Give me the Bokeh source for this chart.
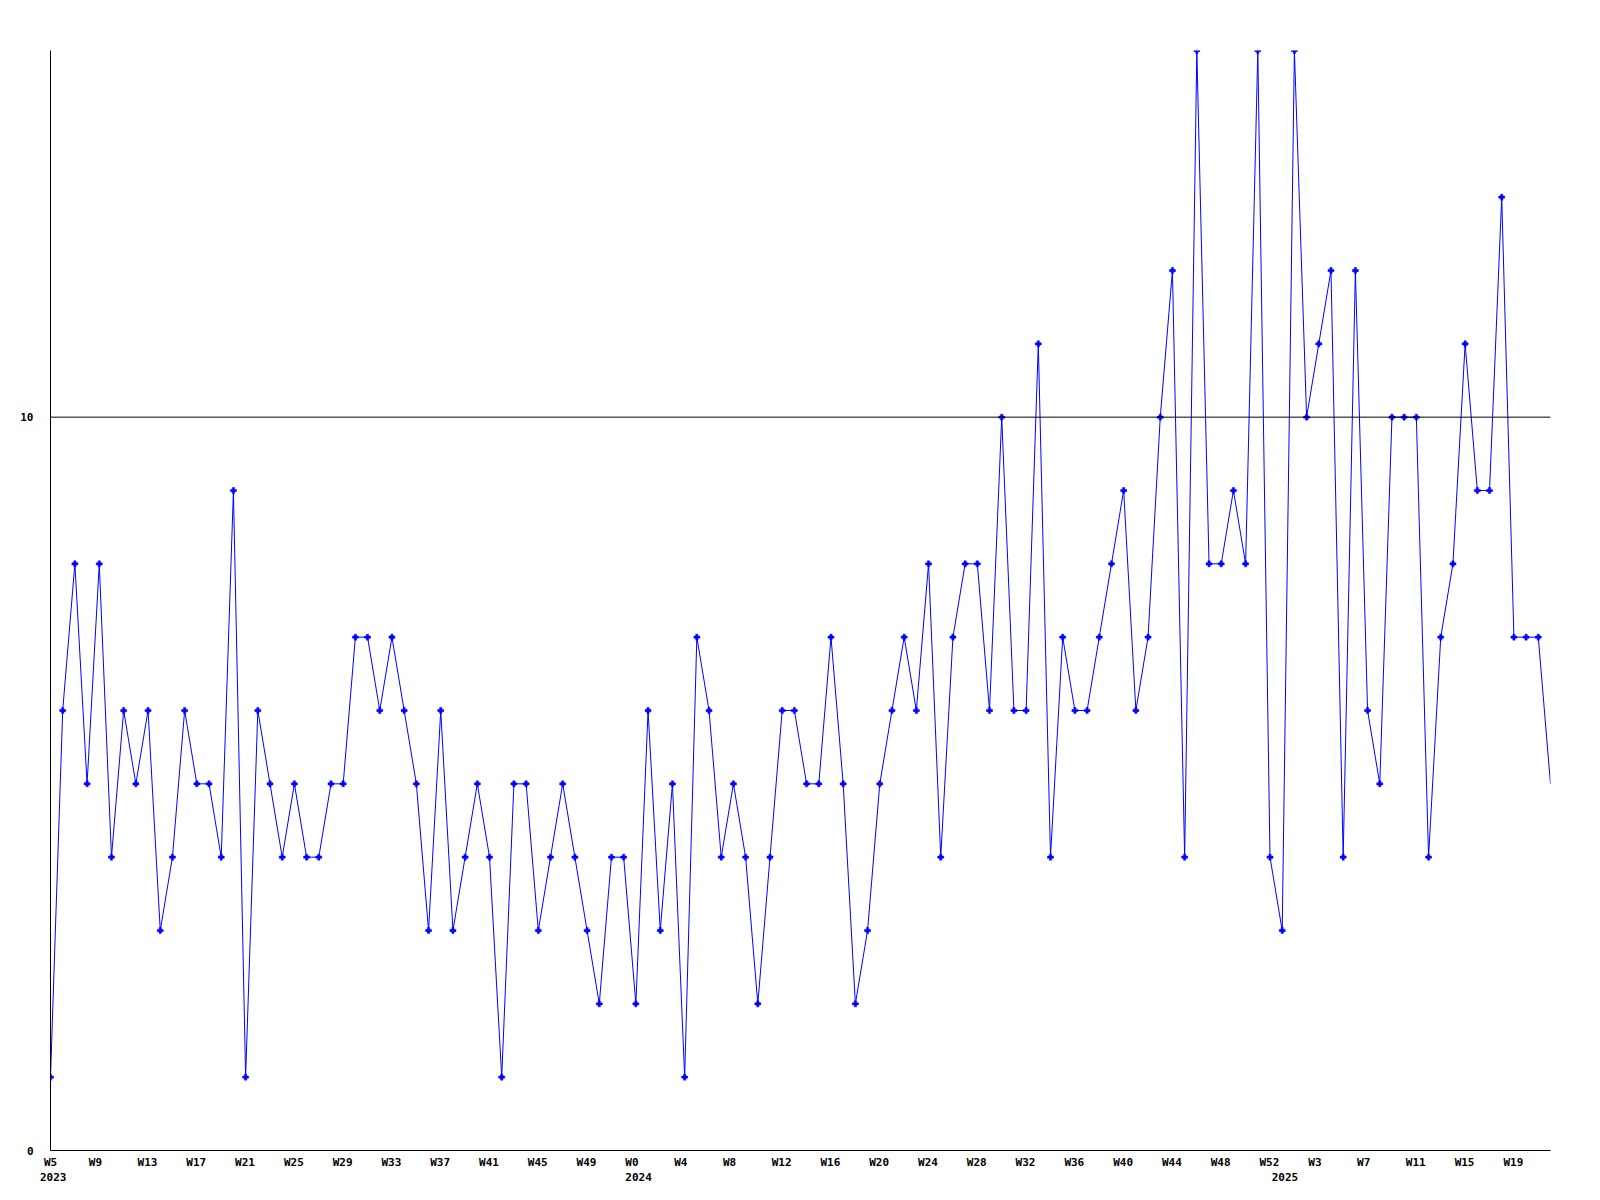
from bokeh.plotting import figure
from bokeh.models import Span, Range1d, FixedTicker, LinearAxis
from bokeh.embed import file_html
from bokeh.resources import INLINE

# weekly counts, W5 2023 .. W22 2025
counts = [1, 6, 8, 5, 8, 4, 6, 5, 6, 3,
          4, 6, 5, 5, 4, 9, 1, 6, 5, 4,
          5, 4, 4, 5, 5, 7, 7, 6, 7, 6,
          5, 3, 6, 3, 4, 5, 4, 1, 5, 5,
          3, 4, 5, 4, 3, 2, 4, 4, 2, 6,
          3, 5, 1, 7, 6, 4, 5, 4, 2, 4,
          6, 6, 5, 5, 7, 5, 2, 3, 5, 6,
          7, 6, 8, 4, 7, 8, 8, 6, 10, 6,
          6, 11, 4, 7, 6, 6, 7, 8, 9, 6,
          7, 10, 12, 4, 15, 8, 8, 9, 8, 15,
          4, 3, 15, 10, 11, 12, 4, 12, 6, 5,
          10, 10, 10, 4, 7, 8, 11, 9, 9, 13,
          7, 7, 7, 5]
week_index = list(range(len(counts)))

week_tick_index = list(range(0, 121, 4))
week_tick_labels = ["W5", "W9", "W13", "W17", "W21", "W25", "W29", "W33",
                    "W37", "W41", "W45", "W49", "W0", "W4", "W8", "W12",
                    "W16", "W20", "W24", "W28", "W32", "W36", "W40", "W44",
                    "W48", "W52", "W3", "W7", "W11", "W15", "W19"]
year_tick_index = [0, 48, 101]
year_tick_labels = ["2023", "2024", "2025"]
y_tick_values = [0, 10]
y_tick_labels = ["0", "10"]

FONT = "DejaVu Sans Mono"
FONT_SIZE = "11px"
CHAR_W = 6.62          # px per character of the monospace font
PX_PER_WEEK = 1500 / (len(counts) - 1)
LEFT_SHIFT = -10.5     # labels start a little before their week


def label_pos(idx, text):
    # labels are drawn left-aligned; axis labels are centred, so move the anchor
    return max(0.0, round(idx + (LEFT_SHIFT + CHAR_W * len(text) / 2) / PX_PER_WEEK, 4))


p = figure(width=1584, height=1190, output_backend="svg", toolbar_location=None,
           x_range=Range1d(0, len(counts) - 1), y_range=Range1d(0, 15),
           min_border_left=50, min_border_right=34,
           min_border_top=50, min_border_bottom=40)
p.outline_line_color = None
p.xgrid.visible = False
p.ygrid.visible = False


def style_axis(ax):
    ax.major_tick_line_color = None
    ax.minor_tick_line_color = None
    ax.major_tick_out = 0
    ax.major_tick_in = 0
    ax.minor_tick_out = 0
    ax.major_label_text_font = FONT
    ax.major_label_text_font_style = "bold"
    ax.major_label_text_font_size = FONT_SIZE
    ax.major_label_text_color = "black"


# week labels on the main bottom axis
wpos = [label_pos(i, t) for i, t in zip(week_tick_index, week_tick_labels)]
xa = p.xaxis[0]
xa.ticker = FixedTicker(ticks=wpos)
xa.major_label_overrides = {pos: t for pos, t in zip(wpos, week_tick_labels)}
xa.axis_line_color = "black"
xa.axis_line_width = 1
style_axis(xa)
xa.major_label_standoff = 5

# year labels on a second bottom axis
ypos_year = [label_pos(i, t) for i, t in zip(year_tick_index, year_tick_labels)]
year_axis = LinearAxis(ticker=FixedTicker(ticks=ypos_year),
                       major_label_overrides={pos: t for pos, t in zip(ypos_year, year_tick_labels)},
                       axis_line_color=None)
style_axis(year_axis)
year_axis.major_label_standoff = 1
p.add_layout(year_axis, "below")

ya = p.yaxis[0]
ya.ticker = FixedTicker(ticks=y_tick_values)
ya.major_label_overrides = {v: t for v, t in zip(y_tick_values, y_tick_labels)}
ya.axis_line_color = "black"
ya.axis_line_width = 1
style_axis(ya)
ya.major_label_standoff = 17

p.add_layout(Span(location=10, dimension="width", line_color="black", line_width=1))

p.line(week_index, counts, line_color="#0000ff", line_width=1)
p.scatter(week_index[:-1], counts[:-1], marker="plus", size=6,
          fill_color="#0000ff", line_color="#0000ff", line_width=0.5)

open("out.html", "w").write(file_html(p, INLINE))
